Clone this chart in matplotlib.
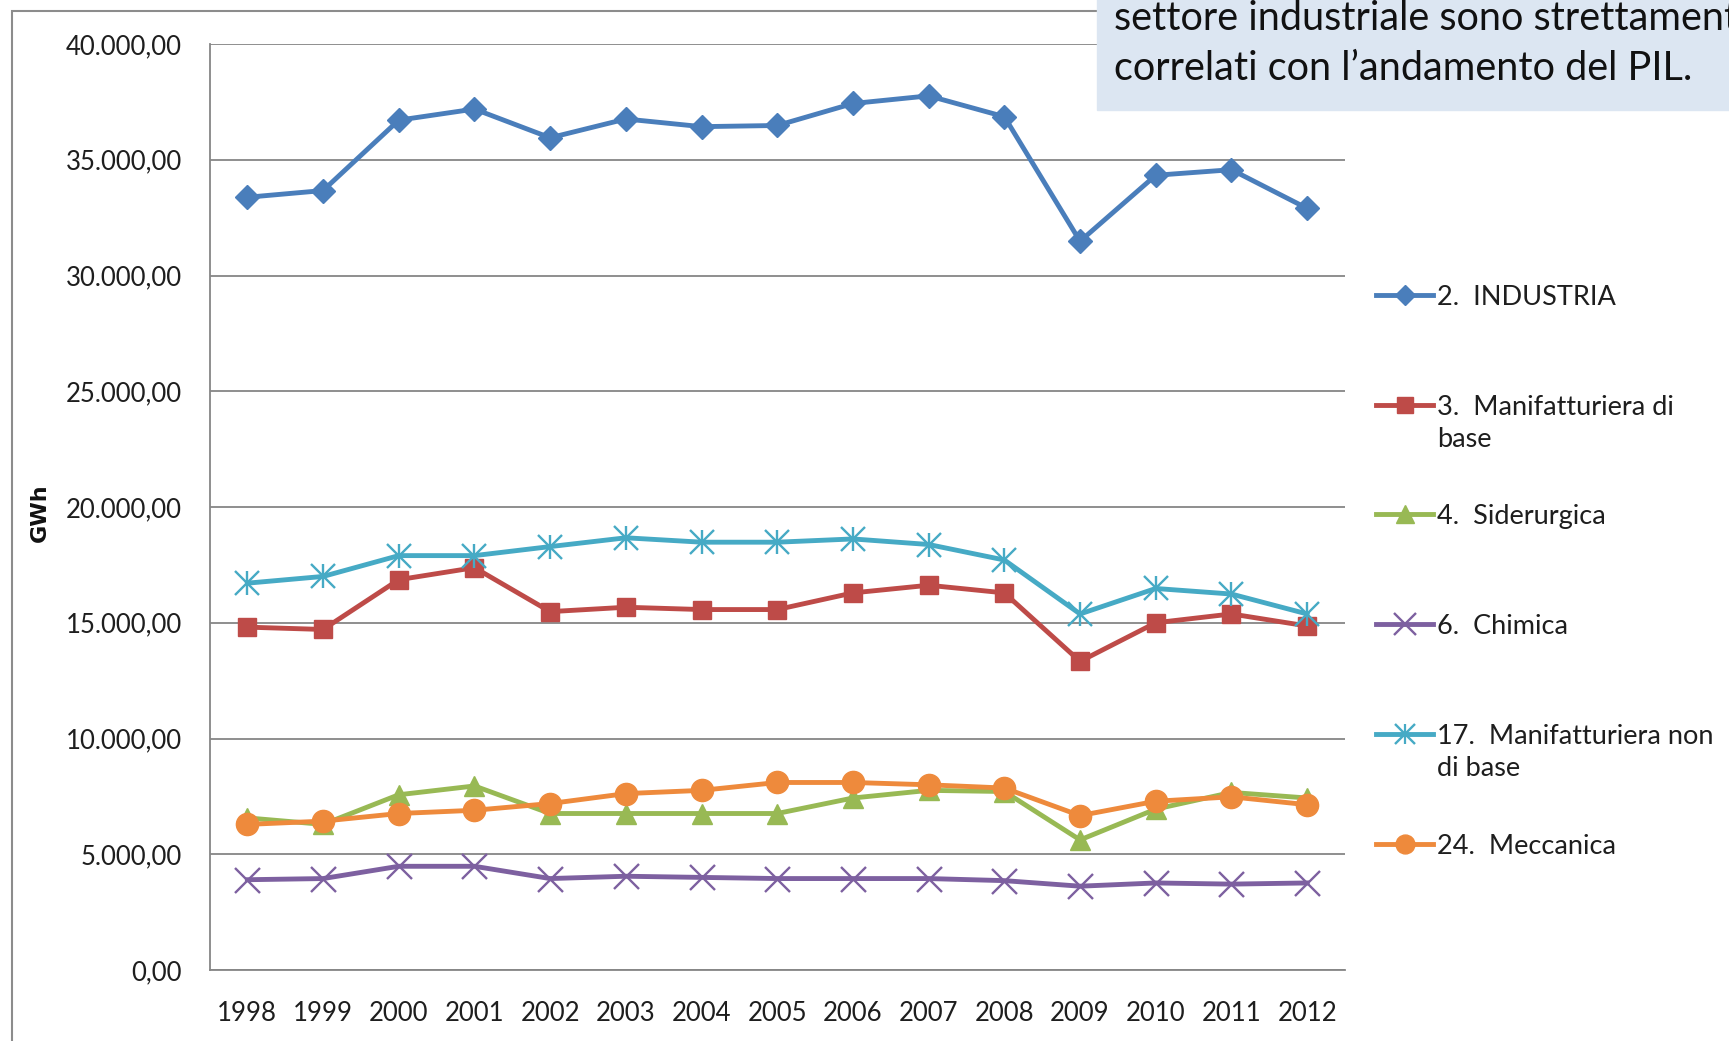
import numpy as np
import matplotlib
matplotlib.use("Agg")
import matplotlib.pyplot as plt
from matplotlib.lines import Line2D
from matplotlib.patches import Rectangle
from matplotlib.ticker import FuncFormatter, MultipleLocator

# ------------------------------------------------------------------
# Data (GWh)
# ------------------------------------------------------------------
years = [1998, 1999, 2000, 2001, 2002, 2003, 2004, 2005,
         2006, 2007, 2008, 2009, 2010, 2011, 2012]

industria     = [33380, 33670, 36710, 37190, 35950, 36760, 36430, 36480,
                 37430, 37760, 36860, 31480, 34330, 34570, 32900]
manif_base    = [14810, 14710, 16860, 17380, 15480, 15670, 15570, 15570,
                 16290, 16620, 16290, 13330, 15000, 15380, 14860]
siderurgica   = [6570, 6290, 7570, 7950, 6760, 6760, 6760, 6760,
                 7430, 7760, 7710, 5620, 6950, 7670, 7430]
chimica       = [3900, 3950, 4480, 4480, 3950, 4050, 4000, 3950,
                 3950, 3950, 3860, 3620, 3760, 3710, 3760]
manif_nonbase = [16710, 17000, 17900, 17900, 18290, 18670, 18480, 18480,
                 18620, 18380, 17710, 15380, 16480, 16240, 15380]
meccanica     = [6290, 6430, 6760, 6900, 7190, 7620, 7760, 8100,
                 8100, 8000, 7860, 6670, 7290, 7480, 7140]

labels = ["2.  INDUSTRIA", "3.  Manifatturiera di\nbase", "4.  Siderurgica",
          "6.  Chimica", "17.  Manifatturiera non\ndi base", "24.  Meccanica"]

note_lines = ["settore industriale sono strettamente",
              "correlati con l\u2019andamento del PIL."]

# ------------------------------------------------------------------
# Styles
# ------------------------------------------------------------------
W, H = 1729, 1041
FONT = ["Lato", "DejaVu Sans"]
GRID = "#868686"
TXT = "#1E1E1E"

series = [
    (industria,     "#4A7EBB", dict(marker="D", ms=12.5)),
    (manif_base,    "#BE4B48", dict(marker="s", ms=13.5)),
    (siderurgica,   "#98B954", dict(marker="^", ms=15)),
    (chimica,       "#7D60A0", dict(marker="x", ms=18, mew=1.7)),
    (manif_nonbase, "#46AAC5", dict(marker="x", ms=17, mew=1.7)),
    (meccanica,     "#EE8A3C", dict(marker="o", ms=16)),
]

fig = plt.figure(figsize=(W / 100, H / 100), dpi=100)

# chart frame (runs past the right / bottom edge of the screenshot)
fig.patches.append(Rectangle((12 / W, -0.1), 1.2, 1 - 11 / H + 0.1,
                             transform=fig.transFigure, fill=False,
                             edgecolor="#8C8C8C", lw=1.5))

ax = fig.add_axes([209.5 / W, 1 - 970 / H, (1345 - 209.5) / W, (970 - 44) / H])

x = np.arange(len(years))
for i, (vals, col, mk) in enumerate(series):
    ax.plot(x, vals, color=col, lw=3.5, mfc=col, mec=col, zorder=3 + i, **mk)
    if i == 4:  # star marker = x plus vertical bar
        ax.plot(x, vals, ls="none", marker="|", ms=17, mew=1.7, color=col, zorder=3 + i)

ax.set_xlim(-0.5, len(years) - 0.5)
ax.set_ylim(0, 40000)
ax.yaxis.set_major_locator(MultipleLocator(5000))
ax.yaxis.set_major_formatter(FuncFormatter(
    lambda v, p: f"{v:,.2f}".replace(",", "X").replace(".", ",").replace("X", ".")))
ax.set_xticks(x)
ax.set_xticklabels([str(y) for y in years])
ax.grid(axis="y", color=GRID, lw=1.3)
ax.set_axisbelow(True)

for s in ["top", "right"]:
    ax.spines[s].set_visible(False)
for s in ["left", "bottom"]:
    ax.spines[s].set_color(GRID)
    ax.spines[s].set_linewidth(1.3)

ax.tick_params(axis="y", length=0, pad=20, labelsize=18.5, labelcolor=TXT)
ax.tick_params(axis="x", length=0, pad=22, labelsize=18.5, labelcolor=TXT)
for t in ax.get_xticklabels() + ax.get_yticklabels():
    t.set_family(FONT)

fig.text(40 / W, 1 - 513 / H, "GWh", rotation=90, ha="center", va="center",
         fontsize=16, fontweight="bold", color="#111111",
         family=["Liberation Sans Narrow", "DejaVu Sans"])

# legend, laid out like the Excel one
leg_y = [295, 405, 514, 624, 734, 844]
for (vals, col, mk), lab, yy in zip(series, labels, leg_y):
    yf = 1 - yy / H
    fig.add_artist(Line2D([1376 / W, 1433 / W], [yf, yf], color=col, lw=3.5,
                          transform=fig.transFigure))
    m = dict(mk)
    m["ms"] = m["ms"] * 0.85
    fig.add_artist(Line2D([1404.5 / W], [yf], color=col, mfc=col, mec=col,
                          transform=fig.transFigure, **m))
    if yy == 734:
        fig.add_artist(Line2D([1404.5 / W], [yf], color=col, marker="|", ms=14,
                              mew=1.6, transform=fig.transFigure))
    fig.text(1437 / W, yf + 10 / H, lab, ha="left", va="top", fontsize=19.5,
             family=FONT, color=TXT, linespacing=1.35)

# note box at the top right (its first line runs off the screenshot, as in the source)
fig.patches.append(Rectangle((1097 / W, 1 - 110 / H), 1.0, 0.2,
                             transform=fig.transFigure, color="#DCE6F2", zorder=10))
for i, line in enumerate(note_lines):
    fig.text(1114 / W, 1 - (30 + 50 * i) / H, line, ha="left", va="baseline",
             fontsize=28.5, family=FONT, color="#111111", zorder=11)

fig.savefig("out.png", dpi=100)
